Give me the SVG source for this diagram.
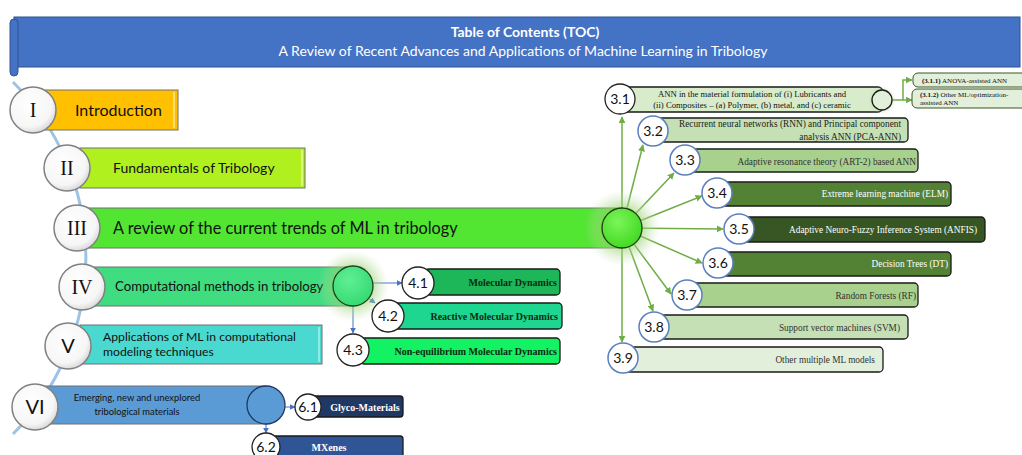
<svg xmlns="http://www.w3.org/2000/svg" width="1022" height="455" viewBox="0 0 1022 455">
<defs>
<style>
.sans{font-family:Lato,"Liberation Sans",sans-serif}
.serif{font-family:"Liberation Serif","DejaVu Serif",serif}
.rom{font-family:"Liberation Serif","DejaVu Serif",serif;font-size:20px;fill:#111;text-anchor:middle}
.roms{font-family:Lato,"Liberation Sans",sans-serif;font-size:20px;fill:#111;text-anchor:middle}
.num{font-family:Lato,"Liberation Sans",sans-serif;font-size:14px;fill:#111;text-anchor:middle}
.box{stroke:#707070;stroke-width:1}
.sbox{stroke:#1a1a1a;stroke-width:1.3}
.mc{fill:url(#wg);stroke:#808080;stroke-width:1.5}
.bc{fill:#fff;stroke:#5b7fbf;stroke-width:1.5}
.kc{fill:#fff;stroke:#222;stroke-width:1.3}
.gl{stroke:#70AD47;stroke-width:1.5;fill:none;marker-end:url(#ga)}
.bl{stroke:#4472C4;stroke-width:1;fill:none;marker-end:url(#ba)}
.lbl{font-family:"Liberation Serif","DejaVu Serif",serif;font-size:9.3px;text-anchor:end}
.lb4{font-family:"Liberation Serif","DejaVu Serif",serif;font-size:10px;font-weight:bold;text-anchor:end;fill:#0d2a12}
.stripe{stroke-width:1.5}
</style>
<radialGradient id="wg" cx="0.42" cy="0.38" r="0.65"><stop offset="0" stop-color="#ffffff"/><stop offset="0.75" stop-color="#f6f6f6"/><stop offset="1" stop-color="#d6d6d6"/></radialGradient>
<radialGradient id="glow"><stop offset="0.45" stop-color="#8fd060" stop-opacity="0.7"/><stop offset="1" stop-color="#c5e0b4" stop-opacity="0"/></radialGradient>
<radialGradient id="hub3" cx="0.4" cy="0.35" r="0.7"><stop offset="0" stop-color="#7cf55a"/><stop offset="1" stop-color="#3fd81f"/></radialGradient>
<radialGradient id="hub4" cx="0.4" cy="0.35" r="0.7"><stop offset="0" stop-color="#5ff094"/><stop offset="1" stop-color="#34d872"/></radialGradient>
<marker id="ga" viewBox="0 0 10 10" refX="9" refY="5" markerWidth="7" markerHeight="7" markerUnits="userSpaceOnUse" orient="auto"><path d="M0,0 L10,5 L0,10 z" fill="#70AD47"/></marker>
<marker id="ba" viewBox="0 0 10 10" refX="9" refY="5" markerWidth="6" markerHeight="6" markerUnits="userSpaceOnUse" orient="auto"><path d="M0,0 L10,5 L0,10 z" fill="#4472C4"/></marker>
</defs>
<rect width="1022" height="455" fill="#ffffff"/>

<g id="banner">
<rect x="14" y="17" width="1006" height="50" fill="#4472C4" stroke="#2F528F" stroke-width="1"/>
<rect x="10" y="19" width="8" height="57" rx="4" fill="#4472C4" stroke="#2F528F" stroke-width="1"/>
<text x="525" y="37" class="sans" font-size="14" font-weight="bold" fill="#fff" text-anchor="middle">Table of Contents (TOC)</text>
<text x="523" y="56" class="sans" font-size="14" fill="#fff" text-anchor="middle">A Review of Recent Advances and Applications of Machine Learning in Tribology</text>
</g>

<g id="spine">
<path d="M13,82 A249,249 0 0 1 13,434" fill="none" stroke="#9DC3E6" stroke-width="3"/>
</g>

<g id="connectors">
<line x1="622" y1="228" x2="622" y2="117" class="gl"/>
<line x1="622" y1="228" x2="643" y2="145" class="gl"/>
<line x1="622" y1="228" x2="674" y2="173" class="gl"/>
<line x1="622" y1="228" x2="702" y2="196" class="gl"/>
<line x1="622" y1="228" x2="723" y2="229" class="gl"/>
<line x1="622" y1="228" x2="702" y2="263" class="gl"/>
<line x1="622" y1="228" x2="671" y2="294" class="gl"/>
<line x1="622" y1="228" x2="653" y2="311" class="gl"/>
<line x1="622" y1="228" x2="622" y2="342" class="gl"/>
<polyline points="892,100 903,100 903,80 912,80" class="gl"/>
<line x1="903" y1="100" x2="912" y2="100" class="gl"/>
<line x1="373" y1="283" x2="402" y2="283" class="bl"/>
<line x1="368" y1="298" x2="375" y2="303" class="bl"/>
<line x1="353" y1="306" x2="353" y2="333" class="bl"/>
<line x1="285" y1="407" x2="295" y2="407" class="bl"/>
<line x1="266" y1="424" x2="266" y2="433" class="bl"/>
</g>

<g id="node-I">
<rect x="45" y="90" width="133" height="40" fill="#FFC000" class="box"/>
<line x1="174" y1="92" x2="174" y2="128" stroke="#FFE699" class="stripe"/>
<circle cx="33" cy="110" r="23" class="mc"/>
<text x="33" y="117" class="rom">I</text>
<text x="75" y="116" class="sans" font-size="16" fill="#111">Introduction</text>
</g>

<g id="node-II">
<rect x="80" y="148" width="225" height="40" fill="#B0F01E" class="box"/>
<line x1="302" y1="150" x2="302" y2="186" stroke="#E6FF9A" class="stripe"/>
<circle cx="67" cy="168" r="23" class="mc"/>
<text x="67" y="175" class="rom">II</text>
<text x="113" y="173" class="sans" font-size="14" fill="#111">Fundamentals of Tribology</text>
</g>

<g id="node-III">
<rect x="88" y="208" width="534" height="40" fill="#52E532" class="box"/>
<circle cx="77" cy="228" r="23" class="mc"/>
<text x="77" y="235" class="rom">III</text>
<text x="113" y="234" class="sans" font-size="16.3" fill="#111">A review of the current trends of ML in tribology</text>
<circle cx="622" cy="228" r="38" fill="url(#glow)"/>
<circle cx="622" cy="228" r="20" fill="url(#hub3)" stroke="#1f3d10" stroke-width="1.3"/>
</g>

<g id="node-IV">
<rect x="93" y="267" width="260" height="39" fill="#3FDC80" class="box"/>
<circle cx="82" cy="287" r="23" class="mc"/>
<text x="82" y="294" class="rom">IV</text>
<text x="115" y="291" class="sans" font-size="13.2" fill="#111">Computational methods in tribology</text>
<circle cx="353" cy="286" r="36" fill="url(#glow)"/>
<circle cx="353" cy="286" r="20" fill="url(#hub4)" stroke="#1f3d20" stroke-width="1.3"/>
</g>

<g id="node-V">
<rect x="80" y="325" width="242" height="39" fill="#4AD9D0" class="box"/>
<line x1="319" y1="327" x2="319" y2="362" stroke="#A6F2EE" class="stripe"/>
<circle cx="68" cy="346" r="23" class="mc"/>
<text x="68" y="353" class="roms">V</text>
<text x="103" y="341" class="sans" font-size="12.2" fill="#111">Applications of ML in computational</text>
<text x="103" y="356" class="sans" font-size="12.2" fill="#111">modeling techniques</text>
</g>

<g id="node-VI">
<rect x="45" y="386" width="221" height="38" fill="#5B9BD5" class="box"/>
<circle cx="35" cy="407" r="23" class="mc"/>
<text x="35" y="414" class="roms">VI</text>
<text x="137" y="401" class="sans" font-size="9.4" fill="#111" text-anchor="middle">Emerging, new and unexplored</text>
<text x="137" y="415" class="sans" font-size="9.4" fill="#111" text-anchor="middle">tribological materials</text>
<circle cx="266" cy="405" r="19" fill="#5B9BD5" stroke="#1F3864" stroke-width="1.3"/>
</g>

<g id="node-4-1">
<rect x="425" y="269" width="135" height="26" rx="4" fill="#1DB659" class="sbox"/>
<circle cx="418" cy="283" r="16" class="kc"/>
<text x="418" y="288" class="num">4.1</text>
<text x="557" y="286" class="lb4">Molecular Dynamics</text>
</g>
<g id="node-4-2">
<rect x="392" y="303" width="170" height="26" rx="4" fill="#1ED690" class="sbox"/>
<circle cx="388" cy="316" r="16" class="kc"/>
<text x="388" y="321" class="num">4.2</text>
<text x="558" y="320" class="lb4">Reactive Molecular Dynamics</text>
</g>
<g id="node-4-3">
<rect x="360" y="338" width="200" height="26" rx="4" fill="#12F262" class="sbox"/>
<circle cx="353" cy="350" r="16" class="kc"/>
<text x="353" y="355" class="num">4.3</text>
<text x="557" y="354.5" class="lb4">Non-equilibrium Molecular Dynamics</text>
</g>

<g id="node-6-1">
<rect x="300" y="396" width="103" height="21" rx="3" fill="#1F3864" class="sbox"/>
<circle cx="308" cy="407" r="13" class="kc"/>
<text x="308" y="412" class="num">6.1</text>
<text x="365" y="411" class="serif" font-size="10" font-weight="bold" fill="#fff" text-anchor="middle">Glyco-Materials</text>
</g>
<g id="node-6-2">
<rect x="266" y="436" width="137" height="24" rx="3" fill="#2F5597" class="sbox"/>
<circle cx="266" cy="447" r="14" class="kc"/>
<text x="266" y="452" class="num">6.2</text>
<text x="329" y="451" class="serif" font-size="10" font-weight="bold" fill="#fff" text-anchor="middle">MXenes</text>
</g>

<g id="node-3-1">
<rect x="615" y="87" width="268" height="25" rx="5" fill="#D8ECCB" class="sbox"/>
<circle cx="620" cy="99" r="15" class="kc"/>
<text x="620" y="104" class="num">3.1</text>
<text x="752" y="97" class="serif" font-size="8.7" fill="#111" text-anchor="middle">ANN in the material formulation of (i) Lubricants and</text>
<text x="752" y="107.5" class="serif" font-size="8.7" fill="#111" text-anchor="middle">(ii) Composites – (a) Polymer, (b) metal, and (c) ceramic</text>
<circle cx="882" cy="100" r="14" fill="url(#glow)"/>
<circle cx="882" cy="100" r="10" fill="#E2EFDA" stroke="#1a1a1a" stroke-width="1.3"/>
</g>
<g id="node-3-1-1">
<rect x="913" y="73" width="115" height="14" rx="5" fill="#E2EFDA" stroke="#385723" stroke-width="1"/>
<text x="922" y="83" class="serif" font-size="7" fill="#111"><tspan font-weight="bold">(3.1.1)</tspan> ANOVA-assisted ANN</text>
</g>
<g id="node-3-1-2">
<rect x="912" y="89" width="115" height="19" rx="5" fill="#E2EFDA" stroke="#385723" stroke-width="1"/>
<text x="920" y="97" class="serif" font-size="7" fill="#111"><tspan font-weight="bold">(3.1.2)</tspan> Other ML/optimization-</text>
<text x="920" y="105" class="serif" font-size="7" fill="#111">assisted ANN</text>
</g>
<g id="node-3-2">
<rect x="645" y="118" width="263" height="24" rx="4" fill="#C5E0B4" class="sbox"/>
<circle cx="653" cy="131" r="15" class="bc"/>
<text x="653" y="136" class="num">3.2</text>
<text x="901" y="127" class="lbl" fill="#222">Recurrent neural networks (RNN) and Principal component</text>
<text x="901" y="139.5" class="lbl" fill="#222">analysis ANN (PCA-ANN)</text>
</g>
<g id="node-3-3">
<rect x="680" y="149" width="238" height="23" rx="4" fill="#A9D18E" class="sbox"/>
<circle cx="685" cy="160" r="15" class="bc"/>
<text x="685" y="165" class="num">3.3</text>
<text x="916" y="164.5" class="lbl" fill="#333">Adaptive resonance theory (ART-2) based ANN</text>
</g>
<g id="node-3-4">
<rect x="710" y="182" width="241" height="24" rx="4" fill="#548235" class="sbox"/>
<circle cx="717" cy="193" r="15" class="bc"/>
<text x="717" y="198" class="num">3.4</text>
<text x="948" y="197" class="lbl" fill="#fff">Extreme learning machine (ELM)</text>
</g>
<g id="node-3-5">
<rect x="730" y="217" width="255" height="25" rx="4" fill="#375623" class="sbox"/>
<circle cx="739" cy="229" r="15" class="bc"/>
<text x="739" y="234" class="num">3.5</text>
<text x="977" y="232.5" class="lbl" fill="#fff">Adaptive Neuro-Fuzzy Inference System (ANFIS)</text>
</g>
<g id="node-3-6">
<rect x="710" y="252" width="241" height="24" rx="4" fill="#548235" class="sbox"/>
<circle cx="718" cy="263" r="15" class="bc"/>
<text x="718" y="268" class="num">3.6</text>
<text x="948" y="267" class="lbl" fill="#fff">Decision Trees (DT)</text>
</g>
<g id="node-3-7">
<rect x="680" y="283" width="238" height="24" rx="4" fill="#A9D18E" class="sbox"/>
<circle cx="687" cy="295" r="15" class="bc"/>
<text x="687" y="300" class="num">3.7</text>
<text x="916" y="298.5" class="lbl" fill="#333">Random Forests (RF)</text>
</g>
<g id="node-3-8">
<rect x="645" y="315" width="263" height="24" rx="4" fill="#C5E0B4" class="sbox"/>
<circle cx="654" cy="327" r="15" class="bc"/>
<text x="654" y="332" class="num">3.8</text>
<text x="900" y="330.5" class="lbl" fill="#333">Support vector machines (SVM)</text>
</g>
<g id="node-3-9">
<rect x="615" y="347" width="268" height="25" rx="4" fill="#E2EFDA" class="sbox"/>
<circle cx="623" cy="358" r="15" class="bc"/>
<text x="623" y="363" class="num">3.9</text>
<text x="875" y="362.5" class="lbl" fill="#333">Other multiple ML models</text>
</g>
</svg>
